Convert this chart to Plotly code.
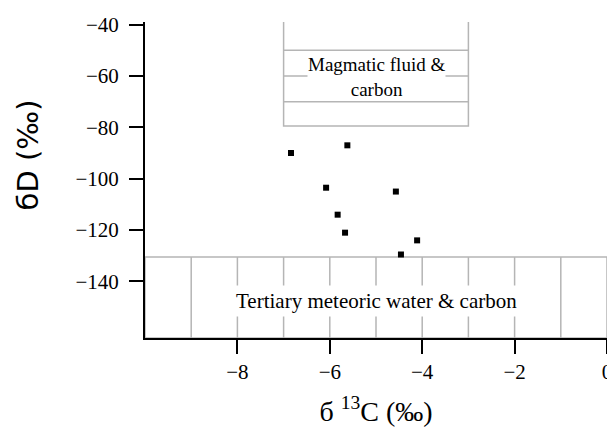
import plotly.graph_objects as go

# Data
d13C = [-6.84, -5.62, -6.08, -4.57, -5.83, -5.67, -4.11, -4.46]
dD = [-90.0, -87.0, -103.5, -105.0, -114.0, -121.0, -124.0, -129.5]

x_ticks = [-8, -6, -4, -2, 0]
x_ticktext = ["\u22128", "\u22126", "\u22124", "\u22122", "0"]
y_ticks = [-40, -60, -80, -100, -120, -140]
y_ticktext = ["\u221240", "\u221260", "\u221280", "\u2212100", "\u2212120", "\u2212140"]

# Field boxes (in data units)
magmatic_x = [-7.0, -3.0]
magmatic_y = [-79.5, -38.5]
magmatic_lines = [-50.0, -60.0, -70.0]
meteoric_x = [-10.0, 0.0]
meteoric_y = [-162.0, -130.5]
meteoric_vlines = [-9, -8, -7, -6, -5, -4, -3, -2, -1]

X_RANGE = [-10, 0]
Y_RANGE = [-162, -39]

GRID = "#b5b5b5"
SERIF = "Liberation Serif"
SANS = "DejaVu Sans"

fig = go.Figure()

shapes = []
shapes.append(dict(type="rect", xref="x", yref="y", x0=magmatic_x[0], x1=magmatic_x[1],
                   y0=magmatic_y[0], y1=magmatic_y[1], line=dict(color=GRID, width=1.5),
                   layer="below"))
for yy in magmatic_lines:
    shapes.append(dict(type="line", xref="x", yref="y", x0=magmatic_x[0], x1=magmatic_x[1],
                       y0=yy, y1=yy, line=dict(color=GRID, width=1.5), layer="below"))
shapes.append(dict(type="rect", xref="x", yref="y", x0=meteoric_x[0], x1=meteoric_x[1],
                   y0=meteoric_y[0], y1=meteoric_y[1], line=dict(color=GRID, width=1.5),
                   layer="below"))
for xx in meteoric_vlines:
    shapes.append(dict(type="line", xref="x", yref="y", x0=xx, x1=xx,
                       y0=meteoric_y[0], y1=meteoric_y[1], line=dict(color=GRID, width=1.5),
                       layer="below"))

fig.add_trace(go.Scatter(
    x=d13C, y=dD, mode="markers",
    marker=dict(symbol="square", size=6, color="black"),
    showlegend=False, cliponaxis=False,
))

mx = sum(magmatic_x) / 2
annotations = [
    dict(x=mx, y=-60.5, xref="x", yref="y", text="Magmatic fluid &<br>carbon", showarrow=False,
         font=dict(family=SERIF, size=19, color="black"), bgcolor="white", borderpad=0),
    dict(x=-5.0, y=-147.5, xref="x", yref="y",
         text="Tertiary meteoric water & carbon", showarrow=False,
         font=dict(family=SERIF, size=21, color="black"), bgcolor="white", borderpad=3),
    # y-axis title (placed as in the reference, above the axis centre)
    dict(x=-0.253, y=0.578, xref="paper", yref="paper", text="бD (‰)", textangle=-90,
         showarrow=False, xanchor="center", yanchor="middle",
         font=dict(family=SANS, size=29, color="black")),
]

# The page adds an 8px body margin, so the figure is sized to fit the 615x433 window
fig.update_layout(
    width=607, height=425,
    margin=dict(l=137, r=8, t=14, b=95),
    paper_bgcolor="white", plot_bgcolor="white",
    shapes=shapes, annotations=annotations,
    font=dict(family=SERIF, color="black"),
    xaxis=dict(range=X_RANGE, tickvals=x_ticks, ticktext=x_ticktext, automargin=False,
               showgrid=False, zeroline=False, showline=True, linecolor="black", linewidth=2,
               ticks="outside", ticklen=14, tickwidth=2, tickcolor="black",
               tickfont=dict(family=SERIF, size=21),
               title=dict(text="б <sup>13</sup>C (‰)", font=dict(family=SERIF, size=28), standoff=18)),
    yaxis=dict(range=Y_RANGE, tickvals=y_ticks, ticktext=y_ticktext, automargin=False,
               showgrid=False, zeroline=False, showline=True, linecolor="black", linewidth=2,
               ticks="outside", ticklen=14, tickwidth=2, tickcolor="black",
               ticklabelstandoff=6,
               tickfont=dict(family=SERIF, size=21)),
)

fig.write_html("out.html")
